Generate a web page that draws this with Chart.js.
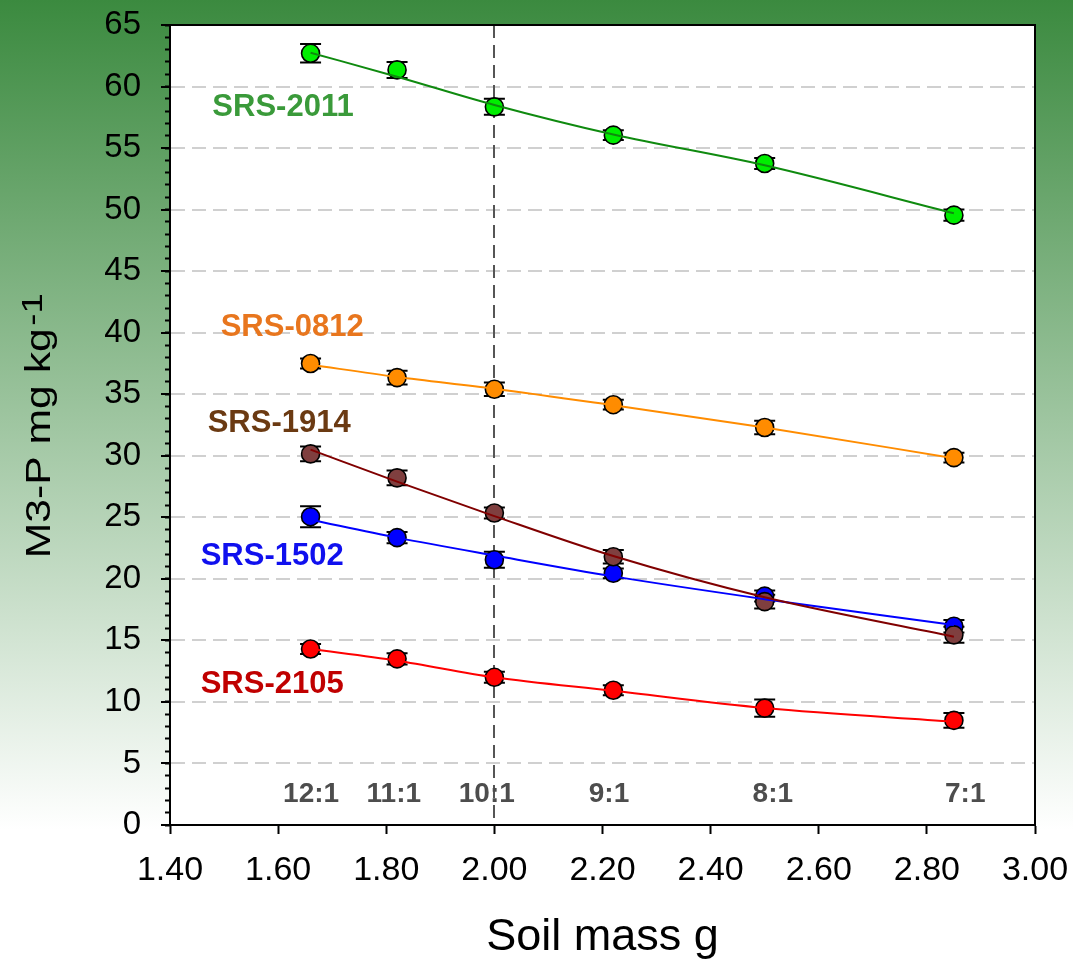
<!DOCTYPE html>
<html>
<head>
<meta charset="utf-8">
<script src="https://cdn.jsdelivr.net/npm/chart.js@4.4.0/dist/chart.umd.min.js"></script>
<style>
  html, body { margin: 0; padding: 0; background: #fff; }
  #wrap { width: 1073px; height: 965px; position: relative; }
</style>
</head>
<body>
<div id="wrap"><canvas id="chart"></canvas></div>
<script>
// soil mass (g) for each extraction ratio
const soilMass = [1.66, 1.82, 2.00, 2.22, 2.50, 2.85];
const ratioLabels = ['12:1', '11:1', '10:1', '9:1', '8:1', '7:1'];
const ratioLabelX = [1.661, 1.814, 1.986, 2.212, 2.515, 2.871];
const ratioLabelY = 2.5;
const refLineX = 2.00;

// M3-P means, std errors and fitted curve values (mg/kg)
const srs2011 = [62.7, 61.35, 58.35, 56.05, 53.75, 49.55];
const srs2011Err = [0.75, 0.65, 0.65, 0.4, 0.45, 0.45];
const srs2011Fit = [62.75, 60.8, 58.5, 56.1, 53.6, 49.7];

const srs0812 = [37.5, 36.35, 35.4, 34.15, 32.3, 29.85];
const srs0812Err = [0.4, 0.55, 0.55, 0.4, 0.55, 0.4];
const srs0812Fit = [37.4, 36.4, 35.45, 34.1, 32.3, 29.8];

const srs1914 = [30.15, 28.2, 25.35, 21.8, 18.15, 15.45];
const srs1914Err = [0.6, 0.6, 0.45, 0.55, 0.55, 0.65];
const srs1914Fit = [30.5, 27.9, 25.1, 21.85, 18.5, 15.3];

const srs1502 = [25.05, 23.35, 21.55, 20.45, 18.6, 16.15];
const srs1502Err = [0.85, 0.45, 0.65, 0.4, 0.45, 0.5];
const srs1502Fit = [24.8, 23.35, 21.9, 20.2, 18.35, 16.25];

const srs2105 = [14.3, 13.5, 12.0, 10.95, 9.5, 8.5];
const srs2105Err = [0.4, 0.45, 0.45, 0.4, 0.7, 0.6];
const srs2105Fit = [14.3, 13.35, 12.0, 10.9, 9.5, 8.4];

const FONT = "'Liberation Sans', Arial, sans-serif";

const SERIES = [
  { name: 'SRS-2011', mean: srs2011, err: srs2011Err, fit: srs2011Fit, fill: '#00ee00', line: '#0f8a0f', text: '#3a9a3a', at: [1.609, 58.3], order: 5 },
  { name: 'SRS-0812', mean: srs0812, err: srs0812Err, fit: srs0812Fit, fill: '#ff8c00', line: '#ff8c00', text: '#e8761e', at: [1.626, 40.4], order: 4 },
  { name: 'SRS-1914', mean: srs1914, err: srs1914Err, fit: srs1914Fit, fill: '#7f3f3f', line: '#800000', text: '#6b3a12', at: [1.602, 32.65], order: 1 },
  { name: 'SRS-1502', mean: srs1502, err: srs1502Err, fit: srs1502Fit, fill: '#0000ff', line: '#0000ff', text: '#1010ee', at: [1.589, 21.85], order: 2 },
  { name: 'SRS-2105', mean: srs2105, err: srs2105Err, fit: srs2105Fit, fill: '#ff0000', line: '#ff0000', text: '#c00000', at: [1.589, 11.4], order: 3 },
];

const toXY = (ys) => soilMass.map((x, i) => ({ x, y: ys[i] }));

const datasets = [];
SERIES.forEach(s => {
  datasets.push({
    label: s.name + ' fit',
    data: toXY(s.fit),
    showLine: true,
    borderColor: s.line,
    borderWidth: 2,
    pointRadius: 0,
    cubicInterpolationMode: 'monotone',
    order: 0,
  });
  datasets.push({
    label: s.name,
    data: toXY(s.mean),
    showLine: false,
    backgroundColor: s.fill,
    borderColor: '#000',
    pointRadius: 9,
    pointBorderWidth: 1.6,
    order: s.order,
  });
});

// page background, plot frame, reference line, error bars, text labels
const decor = {
  id: 'decor',
  beforeDraw(chart) {
    const { ctx, width, height, chartArea: a } = chart;
    const g = ctx.createLinearGradient(0, 0, 0, height);
    g.addColorStop(0, '#3b8a3f');
    g.addColorStop(0.86, '#ffffff');
    g.addColorStop(1, '#ffffff');
    ctx.save();
    ctx.fillStyle = g;
    ctx.fillRect(0, 0, width, height);
    ctx.fillStyle = '#fff';
    ctx.fillRect(a.left, a.top, a.right - a.left, a.bottom - a.top);
    ctx.restore();
  },
  beforeDatasetsDraw(chart) {
    const { ctx, chartArea: a, scales: { x, y } } = chart;
    ctx.save();

    // dashed line at 10:1
    const rx = Math.round(x.getPixelForValue(refLineX));
    ctx.strokeStyle = '#555';
    ctx.lineWidth = 2;
    ctx.setLineDash([13, 7]);
    ctx.beginPath();
    ctx.moveTo(rx, a.top);
    ctx.lineTo(rx, a.bottom);
    ctx.stroke();
    ctx.setLineDash([]);

    // frame
    ctx.strokeStyle = '#000';
    ctx.lineWidth = 2;
    ctx.strokeRect(a.left, a.top, a.right - a.left, a.bottom - a.top);

    // ratio labels
    ctx.font = `bold 28px ${FONT}`;
    ctx.fillStyle = '#4d4d4d';
    ctx.textAlign = 'center';
    ctx.textBaseline = 'middle';
    ratioLabels.forEach((t, i) => {
      ctx.fillText(t, x.getPixelForValue(ratioLabelX[i]), y.getPixelForValue(ratioLabelY));
    });

    // series names
    ctx.font = `bold 31px ${FONT}`;
    SERIES.forEach(s => {
      ctx.fillStyle = s.text;
      ctx.fillText(s.name, x.getPixelForValue(s.at[0]), y.getPixelForValue(s.at[1]));
    });

    // error bars
    ctx.strokeStyle = '#000';
    ctx.lineWidth = 2;
    SERIES.forEach(s => {
      s.mean.forEach((m, i) => {
        const px = x.getPixelForValue(soilMass[i]);
        const top = y.getPixelForValue(m + s.err[i]);
        const bot = y.getPixelForValue(m - s.err[i]);
        ctx.beginPath();
        ctx.moveTo(px, top); ctx.lineTo(px, bot);
        ctx.moveTo(px - 10.5, top); ctx.lineTo(px + 10.5, top);
        ctx.moveTo(px - 10.5, bot); ctx.lineTo(px + 10.5, bot);
        ctx.stroke();
      });
    });
    ctx.restore();
  },
  afterDraw(chart) {
    // y title with superscript
    const { ctx, chartArea: a } = chart;
    const main = 'M3-P mg kg';
    const sup = '-1';
    ctx.save();
    ctx.translate(50, (a.top + a.bottom) / 2 + 2);
    ctx.rotate(-Math.PI / 2);
    ctx.scale(1.22, 1);
    ctx.fillStyle = '#000';
    ctx.textAlign = 'left';
    ctx.textBaseline = 'alphabetic';
    ctx.font = `35px ${FONT}`;
    const mw = ctx.measureText(main).width;
    ctx.font = `30px ${FONT}`;
    const sw = ctx.measureText(sup).width;
    const start = -(mw + sw) / 2;
    ctx.font = `35px ${FONT}`;
    ctx.fillText(main, start, 0);
    ctx.font = `30px ${FONT}`;
    ctx.fillText(sup, start + mw + 2, -8);
    ctx.restore();
  }
};

new Chart(document.getElementById('chart'), {
  type: 'scatter',
  data: { datasets },
  plugins: [decor],
  options: {
    responsive: true,
    maintainAspectRatio: false,
    animation: false,
    layout: { padding: { top: 25, right: 38, left: 0, bottom: 0 } },
    plugins: {
      legend: { display: false },
      tooltip: { enabled: false },
    },
    scales: {
      x: {
        type: 'linear',
        min: 1.4,
        max: 3.0,
        ticks: {
          stepSize: 0.2,
          autoSkip: false,
          maxRotation: 0,
          padding: 16,
          color: '#000',
          font: { family: FONT, size: 34 },
          callback: (v) => v.toFixed(2),
        },
        grid: { drawOnChartArea: false, tickLength: 9, tickColor: '#000', tickWidth: 2 },
        border: { color: '#000', width: 2 },
        title: {
          display: true,
          text: 'Soil mass g',
          color: '#000',
          font: { family: FONT, size: 45, lineHeight: 1.2 },
          padding: { top: 0, bottom: 0 },
        },
        afterFit: (s) => { s.height = 140; s.paddingLeft = 0; s.paddingRight = 0; },
      },
      y: {
        type: 'linear',
        position: 'left',
        weight: 1,
        min: 0,
        max: 65,
        ticks: {
          stepSize: 5,
          maxTicksLimit: 20,
          padding: 20,
          color: '#000',
          font: { family: FONT, size: 33 },
        },
        grid: { color: '#d0d0d0', lineWidth: 2, tickLength: 9, tickColor: '#000', tickWidth: 2, tickBorderDash: [] },
        border: { color: '#000', width: 2, dash: [14, 7] },
        afterFit: (s) => { s.width = 170; s.paddingTop = 0; s.paddingBottom = 0; },
      },
      yMinor: {
        type: 'linear',
        position: 'left',
        weight: 0,
        min: 0,
        max: 65,
        ticks: { display: false, stepSize: 1, maxTicksLimit: 100 },
        grid: { drawOnChartArea: false, tickLength: 5, tickColor: '#000', tickWidth: 2 },
        border: { display: false },
        afterFit: (s) => { s.width = 0; s.paddingTop = 0; s.paddingBottom = 0; },
      },
    },
  },
});
</script>
</body>
</html>
